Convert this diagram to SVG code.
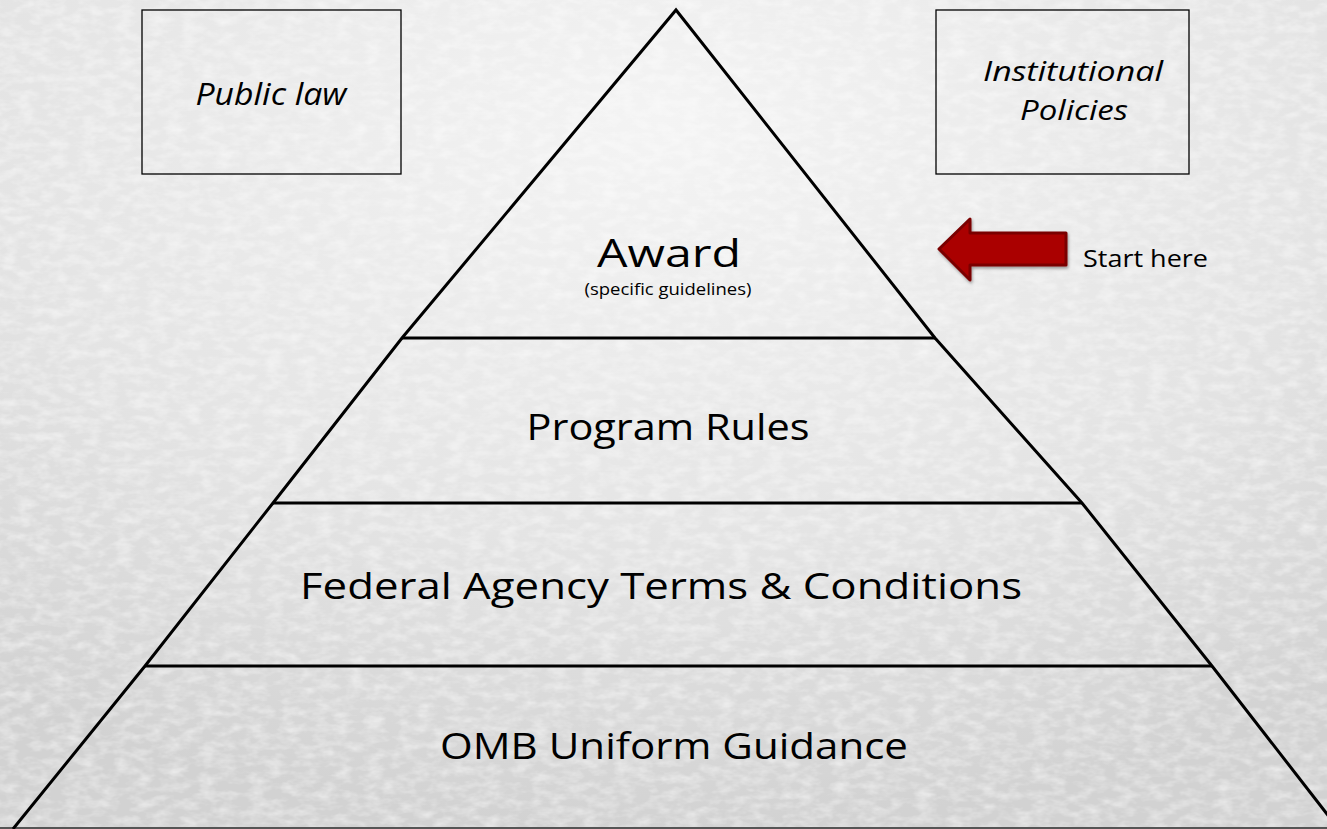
<svg xmlns="http://www.w3.org/2000/svg" width="1327" height="829" viewBox="0 0 1327 829">
<defs>
<radialGradient id="bg" cx="0.5" cy="0.15" r="0.85">
<stop offset="0" stop-color="#f4f4f4"/>
<stop offset="0.6" stop-color="#e4e4e4"/>
<stop offset="1" stop-color="#d2d2d2"/>
</radialGradient>
<filter id="paper" x="0" y="0" width="100%" height="100%">
<feTurbulence type="fractalNoise" baseFrequency="0.06 0.12" numOctaves="3" seed="4" result="n"/>
<feColorMatrix in="n" type="matrix" values="0 0 0 0 1  0 0 0 0 1  0 0 0 0 1  0 0 0 0.9 -0.35" result="w"/>
<feComposite in="w" in2="SourceGraphic" operator="over"/>
</filter>
<filter id="sh" x="-20%" y="-30%" width="140%" height="160%">
<feDropShadow dx="1" dy="2" stdDeviation="1.5" flood-color="#000" flood-opacity="0.35"/>
</filter>
</defs>
<style>
.ln{stroke:#000;stroke-width:3;fill:none}
.bx{stroke:#000;stroke-width:1.3;fill:none}
.t{font-family:"Open Sans","Liberation Sans",sans-serif;fill:#000;text-anchor:middle}
.it{font-style:italic}
</style>
<rect width="1327" height="829" fill="url(#bg)" filter="url(#paper)"/>
<line x1="0" y1="828" x2="1327" y2="828" stroke="#555" stroke-width="2"/>
<g id="pyramid">
<polyline class="ln" points="13,829 145,666 273,503 402,338 676,10 935,338 1082,503 1212,666 1327,814 1340,830"/>
<line class="ln" x1="402" y1="338" x2="935" y2="338" stroke-width="2.5"/>
<line class="ln" x1="273" y1="503" x2="1082" y2="503" stroke-width="2.5"/>
<line class="ln" x1="145" y1="666" x2="1212" y2="666" stroke-width="2.5"/>
</g>
<g id="award">
<text class="t" x="669" y="267" font-size="38" textLength="144" lengthAdjust="spacingAndGlyphs">Award</text>
<text class="t" x="668" y="295" font-size="17" textLength="167" lengthAdjust="spacingAndGlyphs">(specific guidelines)</text>
</g>
<g id="program-rules">
<text class="t" x="668" y="440" font-size="37" textLength="283" lengthAdjust="spacingAndGlyphs">Program Rules</text>
</g>
<g id="federal-agency">
<text class="t" x="661" y="599" font-size="37" textLength="722" lengthAdjust="spacingAndGlyphs">Federal Agency Terms &amp; Conditions</text>
</g>
<g id="omb">
<text class="t" x="674" y="759" font-size="37" textLength="468" lengthAdjust="spacingAndGlyphs">OMB Uniform Guidance</text>
</g>
<g id="public-law">
<rect class="bx" x="142" y="10" width="259" height="164"/>
<text class="t it" x="271" y="105" font-size="31" textLength="151" lengthAdjust="spacingAndGlyphs">Public law</text>
</g>
<g id="institutional">
<rect class="bx" x="936" y="10" width="253" height="164"/>
<text class="t it" x="1073" y="81" font-size="28" textLength="180" lengthAdjust="spacingAndGlyphs">Institutional</text>
<text class="t it" x="1074" y="120" font-size="28" textLength="108" lengthAdjust="spacingAndGlyphs">Policies</text>
</g>
<g id="start-here">
<polygon points="939,249 970,219 970,233 1066,233 1066,265 970,265 970,280" fill="#aa0000" stroke="#7a0000" stroke-width="3" stroke-linejoin="round" filter="url(#sh)"/>
<text x="1083" y="267" font-family="'Open Sans','Liberation Sans',sans-serif" font-size="24" fill="#000" textLength="125" lengthAdjust="spacingAndGlyphs">Start here</text>
</g>
</svg>
